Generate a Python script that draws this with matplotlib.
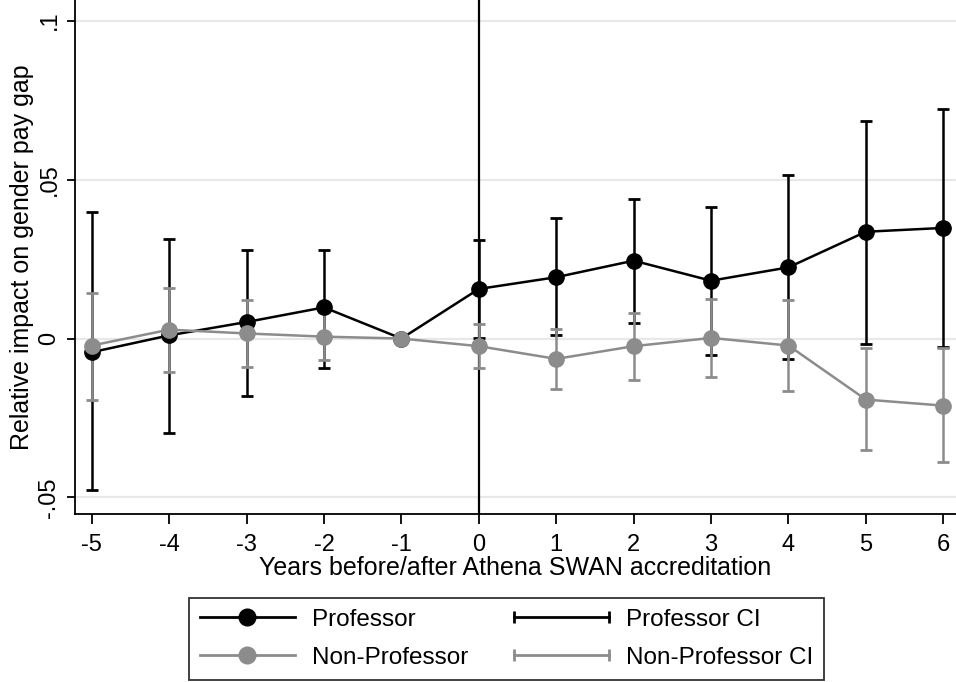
import matplotlib
matplotlib.use("Agg")
import matplotlib.pyplot as plt
from matplotlib.lines import Line2D
from matplotlib.legend_handler import HandlerLine2D

plt.rcParams['font.family'] = ['Liberation Sans', 'DejaVu Sans']

years = [-5, -4, -3, -2, -1, 0, 1, 2, 3, 4, 5, 6]
prof = [-0.0043, 0.0010, 0.0052, 0.0098, 0.0, 0.0156, 0.0193, 0.0245, 0.0182, 0.0224, 0.0336, 0.0348]
prof_lo = [-0.0475, -0.0298, -0.0181, -0.0093, 0.0, 0.0002, 0.0010, 0.0049, -0.0051, -0.0064, -0.0016, -0.0027]
prof_hi = [0.0397, 0.0314, 0.0278, 0.0280, 0.0, 0.0309, 0.0380, 0.0440, 0.0415, 0.0514, 0.0685, 0.0721]
nonprof = [-0.0022, 0.0028, 0.0016, 0.0006, 0.0, -0.0024, -0.0064, -0.0024, 0.0002, -0.0022, -0.0192, -0.0211]
nonprof_lo = [-0.0192, -0.0105, -0.0088, -0.0069, 0.0, -0.0092, -0.0160, -0.0131, -0.0122, -0.0166, -0.0352, -0.0389]
nonprof_hi = [0.0144, 0.0158, 0.0122, 0.0085, 0.0, 0.0046, 0.0031, 0.0081, 0.0123, 0.0120, -0.0029, -0.0030]
yticks = [-0.05, 0, 0.05, 0.1]
ytick_labels = ['-.05', '0', '.05', '.1']

BLACK = '#000000'
GRAY = '#8c8c8c'

fig = plt.figure(figsize=(9.56, 6.82), dpi=100)
ax = fig.add_axes([0.0785, 0.2463, 0.9215, 0.7537])

for y in yticks:
    ax.axhline(y, color='#e8e8e8', lw=1.6, zorder=0)
ax.axvline(0, color=BLACK, lw=1.6, zorder=1)

# CIs (skip reference year -1)
idx = [i for i, yv in enumerate(years) if yv != -1]
px = [years[i] for i in idx]
ax.errorbar(px, [prof[i] for i in idx],
            yerr=[[prof[i] - prof_lo[i] for i in idx], [prof_hi[i] - prof[i] for i in idx]],
            fmt='none', ecolor=BLACK, elinewidth=1.8, capsize=4.5, capthick=2, zorder=2)
ax.errorbar(px, [nonprof[i] for i in idx],
            yerr=[[nonprof[i] - nonprof_lo[i] for i in idx], [nonprof_hi[i] - nonprof[i] for i in idx]],
            fmt='none', ecolor=GRAY, elinewidth=1.8, capsize=4.5, capthick=2, zorder=3)

ax.plot(years, prof, color=BLACK, lw=1.8, marker='o', markersize=11, zorder=4)
ax.plot(years, nonprof, color=GRAY, lw=1.8, marker='o', markersize=11, zorder=5)

ax.set_xlim(-5.216, 6.164)
ax.set_ylim(-0.0552, 0.1065)
ax.set_xticks(years)
ax.set_xticklabels([str(y) for y in years])
ax.set_yticks(yticks)
ax.set_yticklabels(ytick_labels, rotation=90, va='center')
ax.tick_params(axis='x', labelsize=17, length=7.5, width=1.3, color=BLACK, pad=7)
ax.tick_params(axis='y', labelsize=17, length=5.5, width=1.3, color=BLACK, pad=5)
ax.spines['top'].set_visible(False)
ax.spines['right'].set_visible(False)
ax.spines['left'].set_linewidth(1.3)
ax.spines['bottom'].set_linewidth(1.3)
ax.set_xlabel('Years before/after Athena SWAN accreditation', fontsize=18, labelpad=0)
ax.set_ylabel('Relative impact on gender pay gap', fontsize=18, labelpad=3)

h_prof = Line2D([], [], color=BLACK, lw=2, marker='o', markersize=12)
h_non = Line2D([], [], color=GRAY, lw=2, marker='o', markersize=12)
h_pci = Line2D([], [], color=BLACK, lw=2, marker='|', markersize=9, markeredgewidth=2)
h_nci = Line2D([], [], color=GRAY, lw=2, marker='|', markersize=9, markeredgewidth=2)
leg = fig.legend([h_prof, h_non, h_pci, h_nci],
                 ['Professor', 'Non-Professor', 'Professor CI', 'Non-Professor CI'],
                 ncol=2, loc='upper left', bbox_to_anchor=(189 / 956, 1 - 598 / 682),
                 fontsize=17.5, handlelength=3.9, columnspacing=1.9, handletextpad=0.7,
                 labelspacing=0.65, borderpad=0.45, borderaxespad=0, fancybox=False,
                 frameon=True, edgecolor=BLACK,
                 handler_map={h_prof: HandlerLine2D(numpoints=1), h_non: HandlerLine2D(numpoints=1),
                              h_pci: HandlerLine2D(numpoints=2, marker_pad=0.0),
                              h_nci: HandlerLine2D(numpoints=2, marker_pad=0.0)})
leg.get_frame().set_linewidth(1.3)

fig.savefig('out.png', dpi=100)
